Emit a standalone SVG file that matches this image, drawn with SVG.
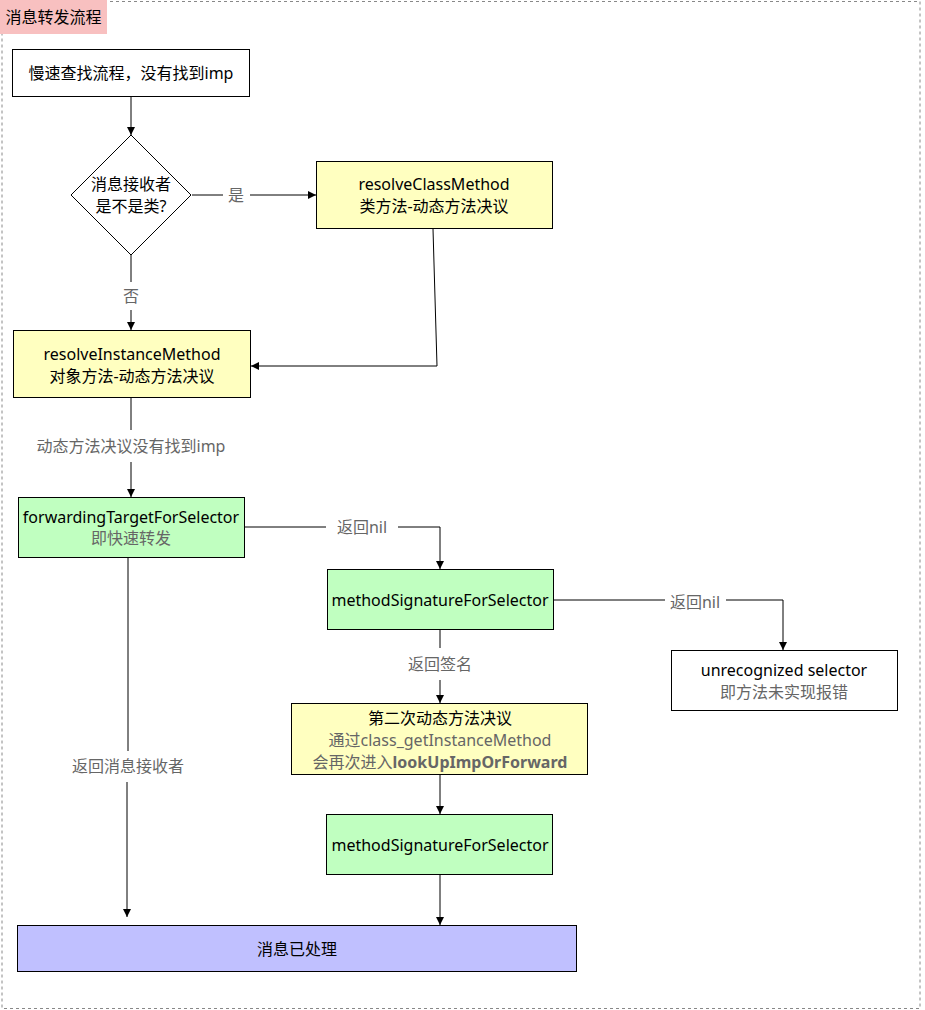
<svg xmlns="http://www.w3.org/2000/svg" width="925" height="1010" viewBox="0 0 925 1010">
<defs>
<marker id="arr" viewBox="0 0 10 10" refX="10" refY="5" markerWidth="8" markerHeight="8" markerUnits="userSpaceOnUse" orient="auto">
<path d="M0,0 L10,5 L0,10 Z" fill="#000"/>
</marker>
<style>
text{font-family:"Noto Sans","Noto Sans CJK SC",sans-serif;font-size:16px;fill:#000;text-anchor:middle;dominant-baseline:central}
.g{fill:#666}
.box{stroke:#000;stroke-width:1}
.y{fill:#FFFFC0}
.gr{fill:#C0FFC0}
.w{fill:#fff}
.b{fill:#C0C0FF}
.edge{fill:none;stroke:#000;stroke-width:1}
.lbl{fill:#666}
</style>
</defs>
<rect width="925" height="1010" fill="#fff"/>
<rect x="2" y="1.5" width="918" height="1007" fill="none" stroke="#888" stroke-dasharray="3,3"/>
<g id="title">
<rect x="0" y="0" width="107" height="34" fill="#F8C0C0"/>
<text x="53.5" y="17">消息转发流程</text>
</g>
<g id="edges">
<path class="edge" d="M131,96 V135" marker-end="url(#arr)"/>
<path class="edge" d="M192,195 H223 M250,195 H316" marker-end="url(#arr)"/>
<path class="edge" d="M433,229 L437,366 H251" marker-end="url(#arr)"/>
<path class="edge" d="M131,255 V282 M131,310 V330" marker-end="url(#arr)"/>
<path class="edge" d="M131,398 V430 M131,462 V497" marker-end="url(#arr)"/>
<path class="edge" d="M244,527 H326 M398,527 H440 V569" marker-end="url(#arr)"/>
<path class="edge" d="M553,600 H665 M726,600 H783 V650" marker-end="url(#arr)"/>
<path class="edge" d="M440,630 V648 M440,680 V703" marker-end="url(#arr)"/>
<path class="edge" d="M440,775 V814" marker-end="url(#arr)"/>
<path class="edge" d="M440,875 V925" marker-end="url(#arr)"/>
<path class="edge" d="M128,558 L128,751 M127,782 L127,917" marker-end="url(#arr)"/>
<text class="lbl" x="236" y="195">是</text>
<text class="lbl" x="131" y="296">否</text>
<text class="lbl" x="131" y="446">动态方法决议没有找到imp</text>
<text class="lbl" x="362" y="527">返回nil</text>
<text class="lbl" x="695" y="602">返回nil</text>
<text class="lbl" x="440" y="664">返回签名</text>
<text class="lbl" x="128" y="766">返回消息接收者</text>
</g>
<g id="n-slow">
<rect class="box w" x="12.5" y="49.5" width="237" height="47"/>
<text x="131" y="73">慢速查找流程，没有找到imp</text>
</g>
<g id="n-decision">
<path class="box w" d="M131,135 L191,195 L131,255 L71,195 Z"/>
<text x="131" y="184">消息接收者</text>
<text x="131" y="206">是不是类?</text>
</g>
<g id="n-resolveClass">
<rect class="box y" x="316.5" y="161.5" width="236" height="67"/>
<text x="434" y="184">resolveClassMethod</text>
<text x="434" y="206">类方法-动态方法决议</text>
</g>
<g id="n-resolveInstance">
<rect class="box y" x="13.5" y="330.5" width="237" height="67"/>
<text x="132" y="354">resolveInstanceMethod</text>
<text x="132" y="376">对象方法-动态方法决议</text>
</g>
<g id="n-forwardingTarget">
<rect class="box gr" x="18.5" y="497.5" width="226" height="60"/>
<text x="131" y="517">forwardingTargetForSelector</text>
<text class="g" x="131" y="538">即快速转发</text>
</g>
<g id="n-methodSig1">
<rect class="box gr" x="327.5" y="569.5" width="226" height="60"/>
<text x="440" y="600">methodSignatureForSelector</text>
</g>
<g id="n-unrecognized">
<rect class="box w" x="671.5" y="650.5" width="226" height="60"/>
<text x="784" y="670">unrecognized selector</text>
<text class="g" x="784" y="692">即方法未实现报错</text>
</g>
<g id="n-second">
<rect class="box y" x="291.5" y="703.5" width="296" height="71"/>
<text x="440" y="718">第二次动态方法决议</text>
<text class="g" x="440" y="740">通过class_getInstanceMethod</text>
<text class="g" x="440" y="762">会再次进入<tspan font-weight="bold">lookUpImpOrForward</tspan></text>
</g>
<g id="n-methodSig2">
<rect class="box gr" x="326.5" y="814.5" width="226" height="60"/>
<text x="440" y="845">methodSignatureForSelector</text>
</g>
<g id="n-done">
<rect class="box b" x="17.5" y="925.5" width="559" height="46"/>
<text x="297" y="949">消息已处理</text>
</g>
</svg>
